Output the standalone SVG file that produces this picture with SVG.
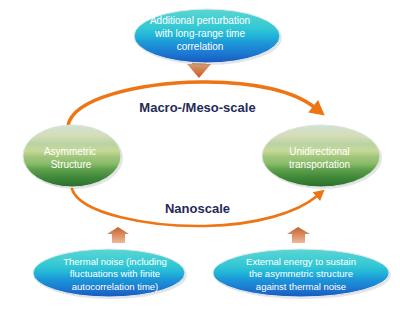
<svg xmlns="http://www.w3.org/2000/svg" width="400" height="313" viewBox="0 0 400 313">
<defs>
<linearGradient id="cyan" x1="0" y1="0" x2="0" y2="1">
<stop offset="0" stop-color="#5ad6d2"/>
<stop offset="0.35" stop-color="#33c8d4"/>
<stop offset="0.5" stop-color="#22b4d8"/>
<stop offset="0.62" stop-color="#1d98d8"/>
<stop offset="0.8" stop-color="#1c7cd2"/>
<stop offset="1" stop-color="#1a58c0"/>
</linearGradient>
<linearGradient id="green" x1="0" y1="0" x2="0" y2="1">
<stop offset="0" stop-color="#cfe3d3"/>
<stop offset="0.18" stop-color="#d6dcb6"/>
<stop offset="0.3" stop-color="#b9d3a4"/>
<stop offset="0.42" stop-color="#c6d995"/>
<stop offset="0.52" stop-color="#9fc47c"/>
<stop offset="0.62" stop-color="#8bbd6a"/>
<stop offset="0.72" stop-color="#5e9e4c"/>
<stop offset="0.84" stop-color="#3f8a39"/>
<stop offset="1" stop-color="#2c6e2c"/>
</linearGradient>
<linearGradient id="down" x1="0" y1="0" x2="0" y2="1">
<stop offset="0" stop-color="#d9b79c"/>
<stop offset="1" stop-color="#cc5a1c"/>
</linearGradient>
<linearGradient id="up" x1="0" y1="0" x2="0" y2="1">
<stop offset="0" stop-color="#c4622e"/>
<stop offset="1" stop-color="#efb898"/>
</linearGradient>
<marker id="head" markerUnits="strokeWidth" viewBox="0 -2.2 3.6 4.4" refX="0" refY="0" markerWidth="3.6" markerHeight="4.4" orient="auto" overflow="visible">
<path d="M-0.3,-2.2 L3.8,0 L-0.3,2.2 Z" fill="#ee7414"/>
</marker>
</defs>
<style>
.shadow{fill:#000;opacity:0.1}
.cy{fill:url(#cyan);stroke:#e4ecf2;stroke-width:1}
.gr{fill:url(#green);stroke:#dfe6e0;stroke-width:1}
.t{font-family:"Liberation Sans",Arial,sans-serif;font-size:10px;fill:#ffffff;text-anchor:middle}
.s{font-size:9.5px}
.lbl{font-family:"Liberation Sans",Arial,sans-serif;font-size:13px;font-weight:bold;fill:#1f2b58;text-anchor:middle}
.arc{fill:none;stroke:#ee7414;stroke-linecap:round}
</style>
<rect width="400" height="313" fill="#ffffff"/>

<g id="connectors">
<path class="arc" stroke-width="3.6" d="M68,126 C72,98 140,83 200,82 C255,81 295,92 314,107" marker-end="url(#head)"/>
<path class="arc" stroke="#dd7018" stroke-width="2.6" d="M72,189 C80,214 150,227 205,226 C258,225 298,212 317,196" marker-end="url(#head)"/>
<path id="arrow-top" d="M192,58 L206,58 L206,64 L211,64 L199,78 L187,64 L192,64 Z" fill="url(#down)"/>
<path id="arrow-bl" d="M112,243 L125,243 L125,234 L129,234 L118,227 L107,234 L112,234 Z" fill="url(#up)"/>
<path id="arrow-br" d="M292,243 L305,243 L305,234 L310,234 L298,227 L287,234 L292,234 Z" fill="url(#up)"/>
</g>

<text class="lbl" x="197.5" y="112">Macro-/Meso-scale</text>
<text class="lbl" x="197.5" y="213">Nanoscale</text>

<g id="node-perturbation">
<ellipse class="shadow" cx="209" cy="38" rx="73" ry="27"/>
<ellipse class="cy" cx="207" cy="36" rx="73" ry="27"/>
<text class="t" x="200" y="24">Additional perturbation</text>
<text class="t" x="200" y="37">with long-range time</text>
<text class="t" x="200" y="50">correlation</text>
</g>

<g id="node-asymmetric">
<ellipse class="shadow" cx="74" cy="158" rx="49" ry="31"/>
<ellipse class="gr" cx="72" cy="156" rx="49" ry="31"/>
<text class="t" x="70" y="155" font-size="10.5">Asymmetric</text>
<text class="t" x="71" y="168" font-size="10.5">Structure</text>
</g>

<g id="node-unidirectional">
<ellipse class="shadow" cx="323" cy="158" rx="59" ry="31"/>
<ellipse class="gr" cx="321" cy="156" rx="59" ry="31"/>
<text class="t" x="319.5" y="155" font-size="10.5">Unidirectional</text>
<text class="t" x="319.5" y="168" font-size="10.5">transportation</text>
</g>

<g id="node-thermal">
<ellipse class="shadow" cx="111" cy="275" rx="76" ry="24"/>
<ellipse class="cy" cx="109" cy="273" rx="76" ry="24"/>
<text class="t s" x="115" y="265">Thermal noise (including</text>
<text class="t s" x="115" y="277">fluctuations with finite</text>
<text class="t s" x="115" y="290">autocorrelation time)</text>
</g>

<g id="node-energy">
<ellipse class="shadow" cx="303" cy="275" rx="88" ry="24"/>
<ellipse class="cy" cx="301" cy="273" rx="88" ry="24"/>
<text class="t s" x="301" y="265">External energy to sustain</text>
<text class="t s" x="301" y="277">the asymmetric structure</text>
<text class="t s" x="301" y="290">against thermal noise</text>
</g>
</svg>
